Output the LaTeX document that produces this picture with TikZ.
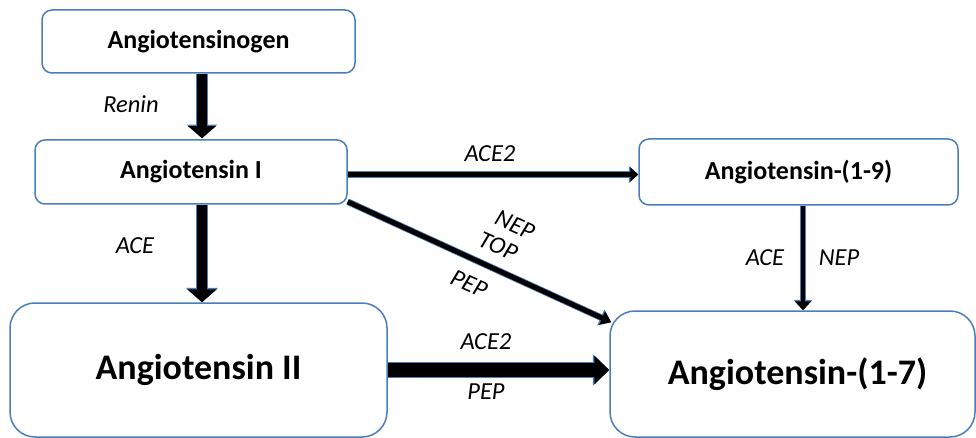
\documentclass[tikz,border=0pt]{standalone}
\usepackage{fontspec}
\setmainfont{Carlito}
\usetikzlibrary{arrows.meta,calc}
\definecolor{outl}{HTML}{4A7EBB}
\tikzset{
  box/.style={draw=outl, line width=1.5pt, rounded corners=#1, fill=white, inner sep=0pt,
    font=\bfseries\fontsize{26}{31}\selectfont},
  bigbox/.style={box=#1, font=\bfseries\fontsize{36}{43}\selectfont},
  lbl/.style={font=\itshape\fontsize{24.5}{29}\selectfont, inner sep=0pt},
  lnk/.style n args={3}{draw=black, line width=#1, -{Triangle[width=#2, length=#3]},
    preaction={draw=outl, line width=#1+1.6pt, -{Triangle[width=#2+2.6pt, length=#3+1.5pt]}}}
}
\begin{document}
\begin{tikzpicture}[x=1pt,y=-1pt]
\useasboundingbox (0,0) rectangle (976,438);
\node[box=10pt, minimum width=313pt, minimum height=63pt] (agen) at (198.5,41.5) {Angiotensinogen};
\node[box=10pt, minimum width=312pt, minimum height=64pt] (a1) at (191,172) {Angiotensin I};
\node[box=10pt, minimum width=319pt, minimum height=66pt] (a19) at (798.5,172) {Angiotensin-(1-9)};
\node[bigbox=25pt, minimum width=377pt, minimum height=134pt] (a2) at (198.5,370) {Angiotensin II};
\node[bigbox=25pt, minimum width=365pt, minimum height=126pt, text width=365pt, align=center] (a17) at (792.5,374) {\hspace*{10pt}Angiotensin-(1-7)};

\coordinate (cx) at (202,0);
\coordinate (dx) at (803,0);
\coordinate (hy) at (0,370);
\draw[lnk={10pt}{27pt}{12pt}] (agen.south -| cx) -- ([yshift=1pt]a1.north -| cx);
\draw[lnk={10pt}{29pt}{13pt}] (a1.south -| cx) -- (a2.north -| cx);
\draw[lnk={5pt}{14pt}{8pt}] ([yshift=-2.5pt]a1.east) -- ([yshift=-2.5pt]a19.west);
\draw[lnk={5pt}{14pt}{10pt}] ($(a1.south east)+(0,-3)$) -- ($(a17.north west)+(2,12)$);
\draw[lnk={4pt}{16pt}{9pt}] (a19.south -| dx) -- (a17.north -| dx);
\draw[lnk={14pt}{28pt}{15pt}] (a2.east |- hy) -- (a17.west |- hy);

\node[lbl] (renin) at (131,104) {Renin};
\node[lbl] (ace1) at (135,246) {ACE};
\node[lbl] (ace2a) at (490,154) {ACE2};
\node[lbl, rotate=-24] (nep1) at (515,225) {NEP};
\node[lbl, rotate=-24] (top1) at (498,246) {TOP};
\node[lbl, rotate=-24] (pep1) at (469,284) {PEP};
\node[lbl] (ace3) at (765,258) {ACE};
\node[lbl] (nep2) at (839,258) {NEP};
\node[lbl] (ace2b) at (486,342) {ACE2};
\node[lbl] (pep2) at (486,392) {PEP};
\end{tikzpicture}
\end{document}
